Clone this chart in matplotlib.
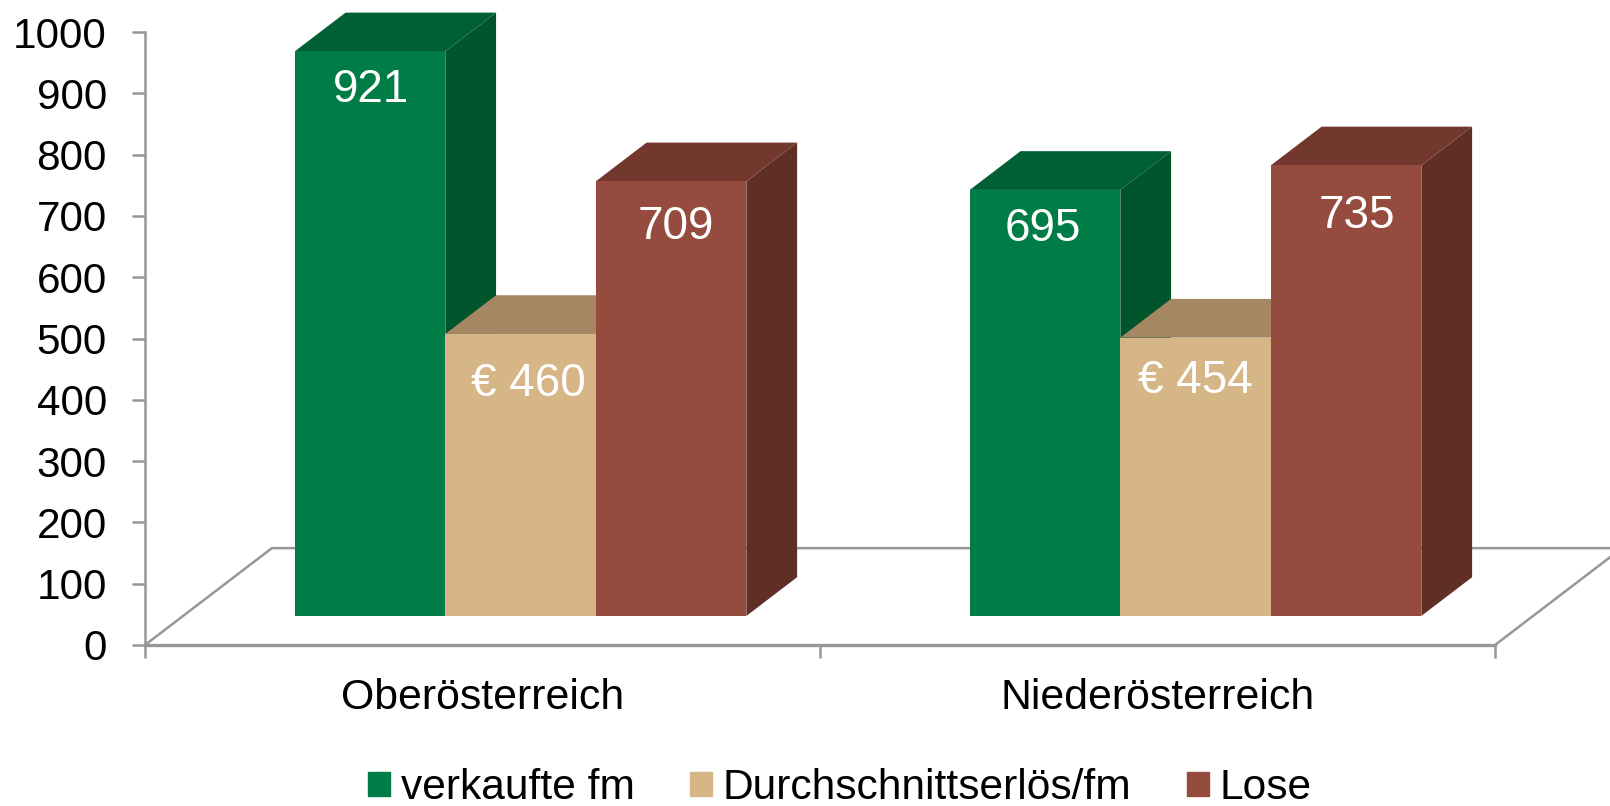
import matplotlib
matplotlib.use("Agg")
import matplotlib.pyplot as plt
from matplotlib.patches import Patch

plt.rcParams['font.family'] = ['Liberation Sans', 'DejaVu Sans']

# data
categories = ["Oberösterreich", "Niederösterreich"]
series_names = ["verkaufte fm", "Durchschnittserlös/fm", "Lose"]
verkaufte = [921, 695]
erloes = [460, 454]
lose = [709, 735]
y_ticks = [0, 100, 200, 300, 400, 500, 600, 700, 800, 900, 1000]

# colours: front, side, top
front_colors = ["#007C46", "#D6B587", "#954B3D"]
side_colors = ["#00552C", "#A58863", "#5F2F25"]
top_colors = ["#005F33", "#A58863", "#72382D"]
prefixes = ["", "€ ", ""]
grey = "#979797"

# fake 3d: how far the floor runs back, in data units
floor_dx = 0.188
floor_dy = 158
bar_width = 0.223
front_start = 0.3   # bars start this far back on the floor
bar_depth = 0.4

# label nudges in pixels (dx, drop below bar top), series by category
label_nudge = [[(1, 39), (-2, 39)], [(8, 50), (0, 43)], [(5, 46), (11, 51)]]

fig = plt.figure(figsize=(16.1, 8.06), dpi=100)
ax = fig.add_axes([145 / 1610, (806 - 645) / 806, 1350 / 1610, 613 / 806])
ax.set_xlim(0, 2)
ax.set_ylim(0, 1000)

# floor
ax.plot([0, floor_dx, 2 + floor_dx], [0, floor_dy, floor_dy], color=grey, lw=1.8, clip_on=False, zorder=1)
ax.plot([2, 2 + floor_dx], [0, floor_dy], color=grey, lw=1.8, clip_on=False, zorder=1)

off_x = front_start * floor_dx
off_y = front_start * floor_dy
dep_x = bar_depth * floor_dx
dep_y = bar_depth * floor_dy

z = 2
for c in range(len(categories)):
    for s, values in enumerate([verkaufte, erloes, lose]):
        val = values[c]
        left = c + 0.5 + off_x + (s - 1.5) * bar_width
        right = left + bar_width
        top = off_y + val
        ax.bar(left, val, width=bar_width, bottom=off_y, align='edge', color=front_colors[s], zorder=z + 2, clip_on=False)
        # side face
        ax.fill([right, right + dep_x, right + dep_x, right],
                [off_y, off_y + dep_y, top + dep_y, top],
                color=side_colors[s], lw=0, zorder=z, clip_on=False)
        # top face
        ax.fill([left, left + dep_x, right + dep_x, right],
                [top, top + dep_y, top + dep_y, top],
                color=top_colors[s], lw=0, zorder=z + 1, clip_on=False)
        nudge = label_nudge[s][c]
        ax.annotate(prefixes[s] + str(val), (left + bar_width / 2, top),
                    xytext=(nudge[0] * 0.72, -nudge[1] * 0.72), textcoords='offset points',
                    ha='center', va='center', color='white', fontsize=33, zorder=50)
        z += 3

# axes
for side in ['top', 'right']:
    ax.spines[side].set_visible(False)
ax.spines['left'].set_color(grey)
ax.spines['left'].set_linewidth(1.8)
ax.spines['bottom'].set_color(grey)
ax.spines['bottom'].set_linewidth(2.4)
ax.set_yticks(y_ticks)
ax.set_xticks([0, 1, 2])
ax.set_xticklabels([])
ax.set_xticks([0.5, 1.5], minor=True)
ax.set_xticklabels(categories, minor=True)
ax.tick_params(axis='y', labelsize=30.4, length=9.4, width=1.8, color=grey, pad=18)
ax.tick_params(axis='x', which='major', length=9, width=1.8, color=grey)
ax.tick_params(axis='x', which='minor', length=0, labelsize=30.8, pad=24)

# legend
handles = [Patch(color=front_colors[i], label=series_names[i]) for i in range(3)]
fig.legend(handles=handles, loc='center', bbox_to_anchor=(840 / 1610, 1 - 788 / 806), ncols=3,
           frameon=False, fontsize=30.6, handlelength=0.52, handleheight=0.52,
           handletextpad=0.25, columnspacing=1.3, borderpad=0, borderaxespad=0)

fig.savefig("out.png", dpi=100)
